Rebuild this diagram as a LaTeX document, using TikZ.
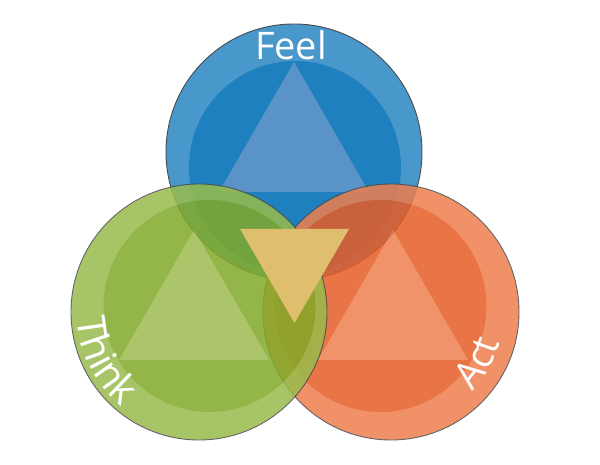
\documentclass[tikz,border=0pt]{standalone}
\usepackage{fontspec}
\setmainfont{Open Sans}
\usetikzlibrary{decorations.text}
\definecolor{bRing}{HTML}{4898CC}
\definecolor{bInner}{HTML}{1E80BE}
\definecolor{bTri}{HTML}{5A93C8}
\definecolor{gRing}{HTML}{98BC4C}
\definecolor{gInner}{HTML}{82AA28}
\definecolor{gTri}{HTML}{9EBB52}
\definecolor{oRing}{HTML}{EE7E4E}
\definecolor{oInner}{HTML}{E65C26}
\definecolor{oTri}{HTML}{EE8050}
\definecolor{yel}{HTML}{DFBE6E}
\definecolor{edge}{HTML}{4A4A4A}
\newcommand\lblfont{\fontsize{38}{40}\selectfont}
\newcommand\lblfontb{\fontsize{40}{42}\selectfont}
\tikzset{
  outline/.style={draw=edge, line width=0.9pt},
  lbl/.style={text=white, font=\lblfont, inner sep=0pt},
  grp/.style={transparency group, opacity=0.85}
}
\begin{document}
\begin{tikzpicture}[x=1pt,y=1pt]
\useasboundingbox (0,0) rectangle (600,465);
\fill[white] (0,0) rectangle (600,465);
\coordinate (B) at (294,313);
\coordinate (Bi) at (295,298);
\coordinate (G) at (199,153);
\coordinate (Gi) at (209.5,159);
\coordinate (O) at (391,153);
\coordinate (Oi) at (380.5,159);
% blue (Feel)
\fill[bRing] (B) circle[radius=128];
\fill[bInner] (Bi) circle[radius=106];
\fill[bTri] (294,403) -- (369,273) -- (219,273) -- cycle;
\draw[outline] (B) circle[radius=128];
% orange (Act)
\begin{scope}[grp]
\fill[oRing] (O) circle[radius=128];
\fill[oInner] (Oi) circle[radius=106];
\fill[oTri] (393,235) -- (468,105) -- (318,105) -- cycle;
\draw[outline] (O) circle[radius=128];
\end{scope}
% green (Think)
\begin{scope}[grp]
\fill[gRing] (G) circle[radius=128];
\fill[gInner] (Gi) circle[radius=106];
\fill[gTri] (194,235) -- (269,105) -- (119,105) -- cycle;
\draw[outline] (G) circle[radius=128];
\end{scope}
% centre triangle
\fill[yel] (240,236) -- (349,236) -- (294.5,142) -- cycle;
% labels
\node[lbl, anchor=base] (feel) at (291,405) {Feel};
\path[decorate, decoration={text along path, text={|\lblfontb|Think}, text align=center, text color=white}]
  ([shift={(174:122)}]G) arc[start angle=174, end angle=240, radius=122];
\path[decorate, decoration={text along path, text={|\lblfont|Act}, text align=center, text color=white}]
  ([shift={(-65:113)}]O) arc[start angle=-65, end angle=5, radius=113];
\end{tikzpicture}
\end{document}
